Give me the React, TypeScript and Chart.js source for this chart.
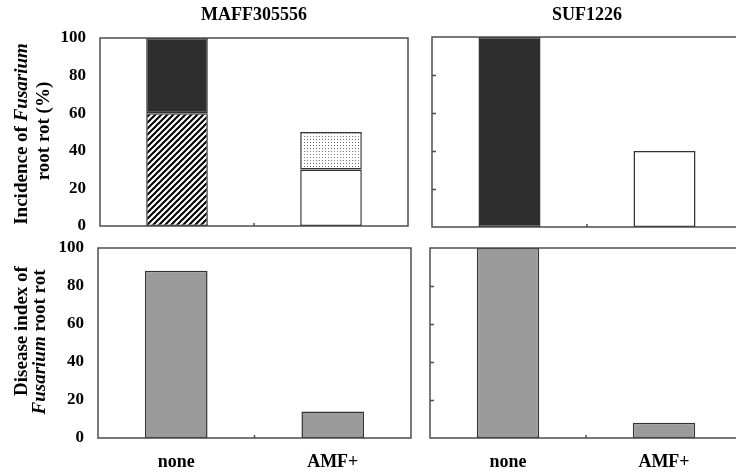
import React, { useEffect, useRef } from "react";
import { Chart, registerables } from "chart.js";

Chart.register(...registerables);

// ---------- data ----------
const categories = ["none", "AMF+"];
const strainTitles = ["MAFF305556", "SUF1226"];
const yTickStep = 20;
const yMax = 100;
// Incidence of Fusarium root rot (%)
const maffIncidenceLower = [60, 30]; // hatched (none) / white (AMF+)
const maffIncidenceUpper = [40, 20]; // dark (none) / dotted (AMF+)
const sufIncidence = [100, 40]; // dark (none) / white (AMF+)
// Disease index of Fusarium root rot
const maffDiseaseIndex = [88, 14];
const sufDiseaseIndex = [100, 8];

type Seg = { text: string; italic?: boolean };
const incidenceTitle: Seg[][] = [
  [{ text: "Incidence of " }, { text: "Fusarium", italic: true }],
  [{ text: "root rot (%)" }],
];
const diseaseTitle: Seg[][] = [
  [{ text: "Disease index of" }],
  [{ text: "Fusarium", italic: true }, { text: " root rot" }],
];

// ---------- styles ----------
const W = 760;
const H = 472;
const SERIF = '"Liberation Serif", "Times New Roman", serif';
const DARK = "#2e2e2e";
const GRAY = "#9b9b9b";
const EDGE = "#333333";
const FRAME = "#4d4d4d";

function makeHatch(): CanvasPattern {
  const c = document.createElement("canvas");
  c.width = 6;
  c.height = 6;
  const g = c.getContext("2d")!;
  g.fillStyle = "#fff";
  g.fillRect(0, 0, 6, 6);
  g.strokeStyle = "#000";
  g.lineWidth = 2;
  g.beginPath();
  g.moveTo(-1, 7);
  g.lineTo(7, -1);
  g.moveTo(-1, 1);
  g.lineTo(1, -1);
  g.moveTo(5, 7);
  g.lineTo(7, 5);
  g.stroke();
  return g.createPattern(c, "repeat")!;
}

function makeDots(): CanvasPattern {
  const c = document.createElement("canvas");
  c.width = 3;
  c.height = 3;
  const g = c.getContext("2d")!;
  g.fillStyle = "#fff";
  g.fillRect(0, 0, 3, 3);
  g.fillStyle = "#7a7a7a";
  g.fillRect(1, 1, 1, 1);
  return g.createPattern(c, "repeat")!;
}

type TitleLine = { segs: Seg[]; cx: number; cy: number };
type Panel = {
  area: { left: number; top: number; right: number; bottom: number };
  showY: boolean;
  showX: boolean;
  title?: string;
  yTitle?: TitleLine[];
  innerTicks: boolean;
  datasets: (p: { hatch: CanvasPattern; dots: CanvasPattern }) => any[];
};

function drawRotated(ctx: CanvasRenderingContext2D, line: TitleLine, size: number) {
  ctx.save();
  ctx.translate(line.cx, line.cy);
  ctx.rotate(-Math.PI / 2);
  ctx.textAlign = "left";
  ctx.textBaseline = "middle";
  ctx.fillStyle = "#000";
  const fonts = line.segs.map((s) => `${s.italic ? "italic " : ""}bold ${size}px ${SERIF}`);
  const widths = line.segs.map((s, i) => {
    ctx.font = fonts[i];
    return ctx.measureText(s.text).width;
  });
  const total = widths.reduce((a, b) => a + b, 0);
  let x = -total / 2;
  line.segs.forEach((s, i) => {
    ctx.font = fonts[i];
    ctx.fillText(s.text, x, 0);
    x += widths[i];
  });
  ctx.restore();
}

const barBase = {
  borderColor: EDGE,
  borderWidth: 1.5,
  borderSkipped: false,
  barPercentage: 0.4,
  categoryPercentage: 1,
};

const panels: Panel[] = [
  {
    area: { left: 100, top: 38, right: 408, bottom: 226 },
    showY: true,
    showX: false,
    title: strainTitles[0],
    yTitle: [
      { segs: incidenceTitle[0], cx: 22, cy: 134 },
      { segs: incidenceTitle[1], cx: 44, cy: 131 },
    ],
    innerTicks: false,
    datasets: ({ hatch, dots }) => [
      { ...barBase, data: maffIncidenceLower, backgroundColor: [hatch, "#ffffff"] },
      { ...barBase, data: maffIncidenceUpper, backgroundColor: [DARK, dots] },
    ],
  },
  {
    area: { left: 432, top: 37, right: 742, bottom: 227 },
    showY: false,
    showX: false,
    title: strainTitles[1],
    innerTicks: true,
    datasets: () => [{ ...barBase, data: sufIncidence, backgroundColor: [DARK, "#ffffff"] }],
  },
  {
    area: { left: 98, top: 248, right: 411, bottom: 438 },
    showY: true,
    showX: true,
    yTitle: [
      { segs: diseaseTitle[0], cx: 22, cy: 331 },
      { segs: diseaseTitle[1], cx: 40, cy: 342 },
    ],
    innerTicks: false,
    datasets: () => [{ ...barBase, data: maffDiseaseIndex, backgroundColor: GRAY }],
  },
  {
    area: { left: 430, top: 248, right: 742, bottom: 438 },
    showY: false,
    showX: true,
    innerTicks: true,
    datasets: () => [{ ...barBase, data: sufDiseaseIndex, backgroundColor: GRAY }],
  },
];

function PanelChart({ panel }: { panel: Panel }) {
  const ref = useRef<HTMLCanvasElement | null>(null);
  useEffect(() => {
    if (!ref.current) return;
    const hatch = makeHatch();
    const dots = makeDots();
    const yAxisW = panel.showY ? 40 : 0;
    const xAxisH = panel.showX ? 34 : 0;
    const a = panel.area;
    const yFont = { family: SERIF, size: 17, weight: "bold" as const };
    const xFont = { family: SERIF, size: 18, weight: "bold" as const };

    const deco = {
      id: "deco",
      afterDraw(chart: any) {
        const ctx: CanvasRenderingContext2D = chart.ctx;
        const ca = chart.chartArea;
        const ys = chart.scales.y;
        const xs = chart.scales.x;
        ctx.save();
        ctx.strokeStyle = FRAME;
        ctx.lineWidth = 1.5;
        ctx.strokeRect(ca.left, ca.top, ca.right - ca.left, ca.bottom - ca.top);
        if (panel.innerTicks) {
          ctx.beginPath();
          for (let v = yTickStep; v < yMax; v += yTickStep) {
            const y = Math.round(ys.getPixelForValue(v)) + 0.5;
            ctx.moveTo(ca.left, y);
            ctx.lineTo(ca.left + 4, y);
          }
          ctx.stroke();
        }
        const xMid = (xs.getPixelForValue(0) + xs.getPixelForValue(1)) / 2;
        ctx.beginPath();
        ctx.moveTo(xMid, ca.bottom);
        ctx.lineTo(xMid, ca.bottom - 3);
        ctx.stroke();
        if (panel.title) {
          ctx.fillStyle = "#000";
          ctx.font = `bold 18px ${SERIF}`;
          ctx.textAlign = "center";
          ctx.textBaseline = "alphabetic";
          ctx.fillText(panel.title, (ca.left + ca.right) / 2, 20);
        }
        if (panel.yTitle) {
          panel.yTitle.forEach((line) => drawRotated(ctx, line, 19));
        }
        ctx.restore();
      },
    };

    const chart = new Chart(ref.current, {
      type: "bar",
      data: { labels: categories, datasets: panel.datasets({ hatch, dots }) },
      options: {
        responsive: false,
        animation: false,
        layout: {
          padding: {
            left: a.left - yAxisW,
            top: a.top,
            right: W - a.right,
            bottom: H - a.bottom - xAxisH,
          },
        },
        plugins: {
          legend: { display: false },
          tooltip: { enabled: false },
          title: { display: false },
        },
        scales: {
          x: {
            stacked: true,
            display: panel.showX,
            grid: { display: false, drawTicks: false },
            border: { display: false },
            ticks: { font: xFont, color: "#000", padding: 14 },
            afterFit: (s: any) => {
              s.height = xAxisH;
            },
          },
          y: {
            stacked: true,
            display: panel.showY,
            min: 0,
            max: yMax,
            grid: { display: false, drawTicks: false },
            border: { display: false },
            ticks: { stepSize: yTickStep, font: yFont, color: "#000", padding: 14 },
            afterFit: (s: any) => {
              s.width = yAxisW;
            },
          },
        },
      } as any,
      plugins: [deco],
    });
    return () => chart.destroy();
  }, [panel]);
  return (
    <canvas
      ref={ref}
      width={W}
      height={H}
      style={{ position: "absolute", left: 0, top: 0, width: W, height: H }}
    />
  );
}

export default function App() {
  return (
    <div
      style={{
        position: "fixed",
        left: 0,
        top: 0,
        width: 736,
        height: 472,
        overflow: "hidden",
        background: "#fff",
      }}
    >
      {panels.map((p, i) => (
        <PanelChart key={i} panel={p} />
      ))}
    </div>
  );
}
